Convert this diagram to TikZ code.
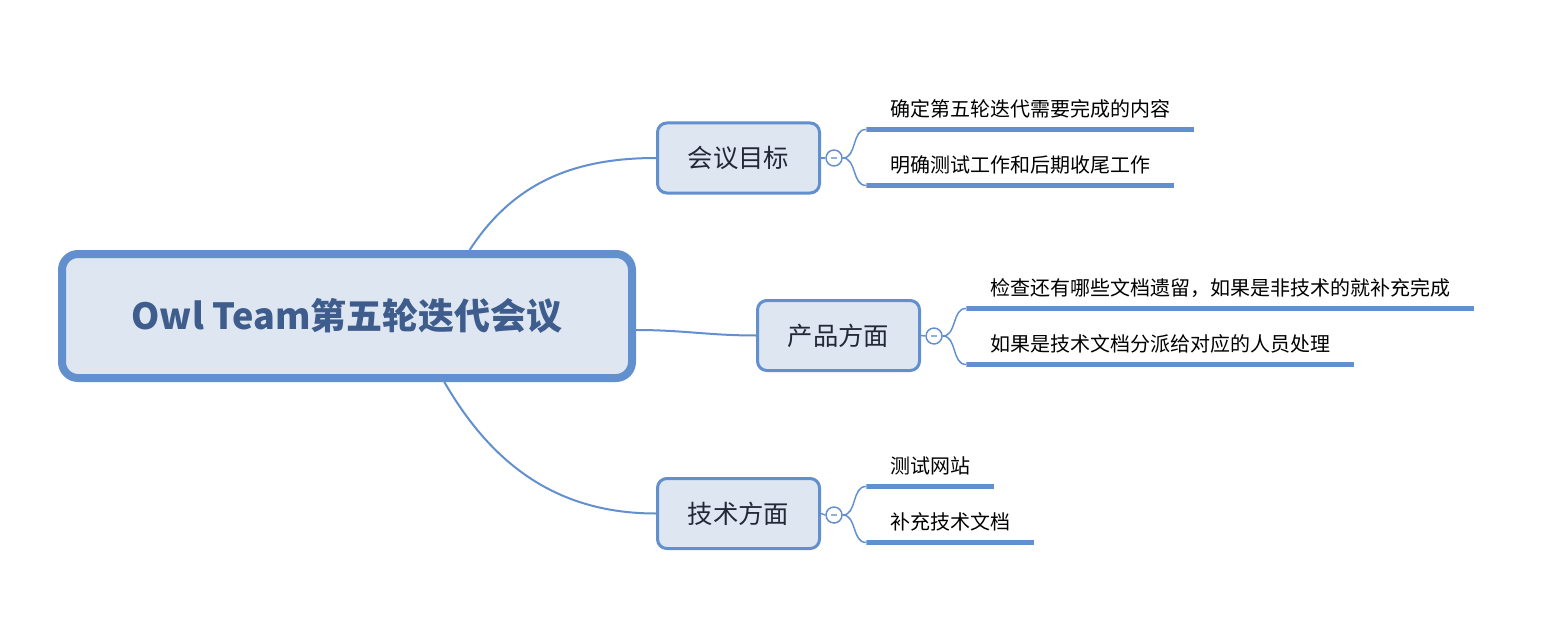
\documentclass[tikz,border=0pt]{standalone}
\usepackage{fontspec}
\usepackage{tikz}
\usetikzlibrary{positioning, calc}
\newfontfamily\cjk{Noto Sans CJK SC}
\definecolor{mapblue}{RGB}{98,143,206}
\definecolor{mapfill}{RGB}{222,230,242}
\definecolor{roottext}{RGB}{62,92,140}
\definecolor{topictext}{RGB}{35,40,55}
\tikzset{
  rootbox/.style={draw=mapblue, fill=mapfill, line width=6pt, rounded corners=12pt,
                  minimum width=427.5pt, minimum height=93pt,
                  font=\cjk\bfseries\fontsize{27}{32}\selectfont, text=roottext},
  topicbox/.style={draw=mapblue, fill=mapfill, line width=2.25pt, rounded corners=7pt,
                   minimum width=121.5pt, minimum height=52.5pt,
                   font=\cjk\fontsize{19}{23}\selectfont, text=topictext},
  leaf/.style={anchor=south west, inner xsep=18pt, inner ysep=9.3pt,
               text height=11pt, text depth=2pt,
               font=\cjk\fontsize{15}{18}\selectfont,
               path picture={\draw[mapblue, line width=7.5pt]
                 (path picture bounding box.south west) -- (path picture bounding box.south east);}},
  fold/.style={circle, draw=mapblue, fill=white, line width=1.1pt, minimum size=12pt,
               inner sep=0pt,
               path picture={\draw[mapblue!70, line width=0.8pt] (-2.5pt,0) -- (2.5pt,0);}},
  link/.style={draw=mapblue, line width=1.5pt},
  twig/.style={draw=mapblue, line width=1.1pt},
}
\begin{document}
\begin{tikzpicture}[x=0.75pt, y=-0.75pt]
  \useasboundingbox (0,0) rectangle (1544,638);

  % Central topic
  \node[rootbox] (root) at (347,316) {Owl Team第五轮迭代会议};

  % Main topics
  \node[topicbox] (goal) at (738.5,158) {会议目标};
  \node[topicbox] (prod) at (838.5,335.5) {产品方面};
  \node[topicbox] (tech) at (738.5,513.5) {技术方面};

  \draw[link] ([xshift=92pt]root.north) to[out=57,in=180] (goal.west);
  \draw[link] ([yshift=-10.5pt]root.east) to[out=0,in=180] (prod.west);
  \draw[link] ([xshift=73pt]root.south) to[out=-60,in=180] (tech.west);

  % Fold markers
  \node[fold] (fgoal) at (834,158) {};
  \node[fold] (fprod) at (934,336) {};
  \node[fold] (ftech) at (834,515) {};
  \draw[twig] (goal.east) -- (fgoal.west);
  \draw[twig] (prod.east) -- (fprod.west);
  \draw[twig] (tech.east) -- (ftech.west);

  % Subtopics
  \node[leaf] (goal1) at (866,132) {确定第五轮迭代需要完成的内容};
  \node[leaf] (goal2) at (866,188) {明确测试工作和后期收尾工作};
  \node[leaf] (prod1) at (966,311) {检查还有哪些文档遗留，如果是非技术的就补充完成};
  \node[leaf] (prod2) at (966,367) {如果是技术文档分派给对应的人员处理};
  \node[leaf] (tech1) at (866,489) {测试网站};
  \node[leaf] (tech2) at (866,545) {补充技术文档};

  \draw[twig] (fgoal.east) to[out=0,in=180] ([yshift=1.9pt]goal1.south west);
  \draw[twig] (fgoal.east) to[out=0,in=180] ([yshift=1.9pt]goal2.south west);
  \draw[twig] (fprod.east) to[out=0,in=180] ([yshift=1.9pt]prod1.south west);
  \draw[twig] (fprod.east) to[out=0,in=180] ([yshift=1.9pt]prod2.south west);
  \draw[twig] (ftech.east) to[out=0,in=180] ([yshift=1.9pt]tech1.south west);
  \draw[twig] (ftech.east) to[out=0,in=180] ([yshift=1.9pt]tech2.south west);

\end{tikzpicture}
\end{document}
